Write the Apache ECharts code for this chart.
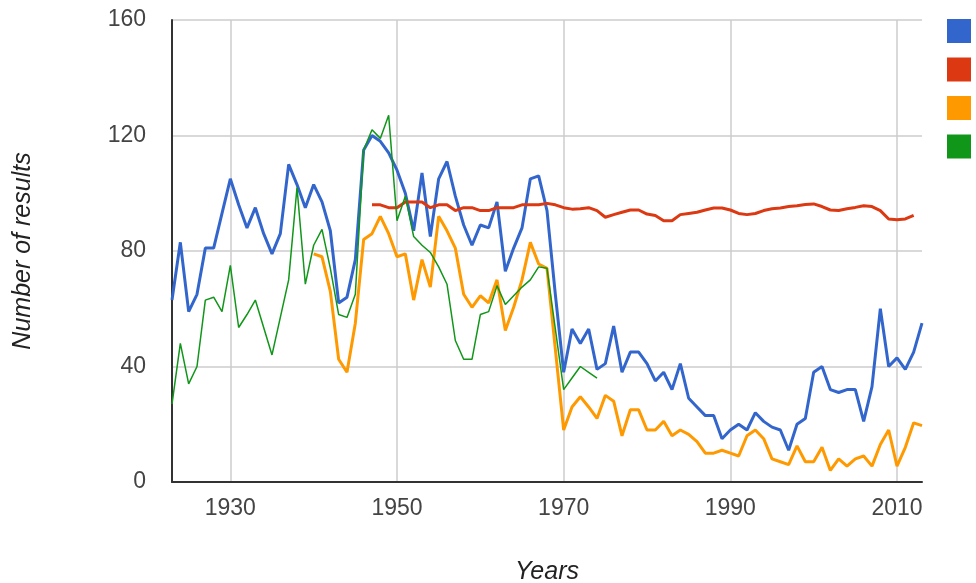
<!DOCTYPE html>
<html>
<head>
<meta charset="utf-8">
<script src="https://cdn.jsdelivr.net/npm/echarts@6/dist/echarts.min.js"></script>
<style>
  html, body { margin: 0; padding: 0; background: #fff; }
  #main { width: 976px; height: 583px; }
</style>
</head>
<body>
<div id="main"></div>
<script>
var myChart = echarts.init(document.getElementById('main'));

// years 1923 .. 2013
var years = [];
for (var y = 1923; y <= 2013; y++) years.push(String(y));

var blueValues = [
	63, 83, 59, 65, 81, 81, 93, 105, 96, 88,
	95, 86, 79, 86, 110, 103, 95, 103, 97, 87,
	62, 64, 77, 115, 120, 118, 114, 108, 100, 87,
	107, 85, 105, 111, 99, 89, 82, 89, 88, 97,
	73, 81, 88, 105, 106, 94, 65, 38, 53, 48,
	53, 39, 41, 54, 38, 45, 45, 41, 35, 38,
	32, 41, 29, 26, 23, 23, 15, 18, 20, 18,
	24, 21, 19, 18, 11, 20, 22, 38, 40, 32,
	31, 32, 32, 21, 33, 60, 40, 43, 39, 45,
	55
];

// starts 1947, ends 2012
var redValues = [
	null, null, null, null, null, null, null, null, null, null,
	null, null, null, null, null, null, null, null, null, null,
	null, null, null, null, 96, 96, 95, 95, 97, 97,
	97, 95, 96, 96, 94, 95, 95, 94, 94, 95,
	95, 95, 96, 96, 96, 96.5, 96, 95, 94.5, 94.6,
	95, 94, 91.7, 92.6, 93.4, 94.2, 94.2, 92.8, 92.3, 90.5,
	90.5, 92.6, 93, 93.4, 94.2, 94.9, 94.9, 94.2, 93, 92.6,
	93, 94, 94.6, 94.9, 95.4, 95.7, 96.1, 96.3, 95.4, 94.2,
	94, 94.6, 95.1, 95.7, 95.4, 94, 91.1, 90.8, 91.1, 92.3,
	null
];

// starts 1940
var orangeValues = [
	null, null, null, null, null, null, null, null, null, null,
	null, null, null, null, null, null, null, 79, 78, 66,
	42.5, 38, 55, 84, 86, 92, 86, 78, 79, 63,
	77, 67.5, 92, 87, 81, 65, 60.5, 64.5, 62, 70,
	52.5, 60.5, 70, 83, 75.5, 74, 46, 18, 26, 29.5,
	26, 22, 30, 28, 16, 25, 25, 18, 18, 21,
	16, 18, 16.5, 14, 10, 10, 11, 10, 9, 16,
	18, 15, 8, 7, 6, 12.5, 7, 7, 12, 4,
	8, 5.5, 8, 9, 5.5, 13, 18, 5.5, 12, 20.5,
	19.5
];

// ends 1974
var greenValues = [
	27, 48, 34, 40, 63, 64, 59, 75, 53.5, 58,
	63, 53.5, 44, 57, 70, 102, 68.5, 82, 87.5, 74,
	58, 57, 65, 115, 122, 119, 127, 90.5, 99, 85,
	82, 79.5, 74.5, 68.5, 49, 42.5, 42.5, 58, 59, 68,
	61.5, 64.5, 67.5, 70, 74.5, 74, 53, 32, 36, 40,
	38, 36
];

var seriesNames = ['Series 1', 'Series 2', 'Series 3', 'Series 4'];
var colors = ['#3366cc', '#dc3912', '#ff9900', '#109618'];
var yTicks = { min: 0, max: 160, interval: 40 };

function showDecade(index, value) {
	return Number(value) % 20 === 10;
}

option = {
	animation: false,
	color: colors,
	textStyle: { fontFamily: 'Liberation Sans, Arial, sans-serif' },
	grid: {
		left: 172,
		right: 54,
		top: 20,
		bottom: 101,
		outerBoundsMode: 'none'
	},
	legend: {
		orient: 'vertical',
		left: 947,
		top: 19,
		padding: 0,
		icon: 'rect',
		itemWidth: 24,
		itemHeight: 24,
		itemGap: 14.5,
		formatter: function () { return ''; },
		textStyle: { fontSize: 10 },
		data: seriesNames
	},
	xAxis: {
		type: 'category',
		boundaryGap: false,
		data: years,
		name: 'Years',
		nameLocation: 'middle',
		nameGap: 78,
		nameTextStyle: { fontSize: 25, fontStyle: 'italic', color: '#222' },
		axisLine: { lineStyle: { color: '#333', width: 2 } },
		axisTick: { show: false },
		axisLabel: {
			interval: showDecade,
			margin: 15,
			fontSize: 23,
			color: '#444'
		},
		splitLine: {
			show: true,
			interval: showDecade,
			lineStyle: { color: '#ccc', width: 1.5 }
		}
	},
	yAxis: {
		type: 'value',
		min: yTicks.min,
		max: yTicks.max,
		interval: yTicks.interval,
		name: 'Number of results',
		nameLocation: 'middle',
		nameGap: 136,
		nameTextStyle: { fontSize: 25, fontStyle: 'italic', color: '#222' },
		axisLine: { show: true, lineStyle: { color: '#333', width: 2 } },
		axisTick: { show: false },
		axisLabel: { margin: 26, fontSize: 23, color: '#444' },
		splitLine: { lineStyle: { color: '#ccc', width: 1.5 } }
	},
	series: [
		{
			name: seriesNames[0],
			type: 'line',
			data: blueValues,
			showSymbol: false,
			lineStyle: { width: 3 }
		},
		{
			name: seriesNames[1],
			type: 'line',
			data: redValues,
			showSymbol: false,
			lineStyle: { width: 3 }
		},
		{
			name: seriesNames[2],
			type: 'line',
			data: orangeValues,
			showSymbol: false,
			lineStyle: { width: 3 }
		},
		{
			name: seriesNames[3],
			type: 'line',
			data: greenValues,
			showSymbol: false,
			lineStyle: { width: 1.5 }
		}
	]
};

myChart.setOption(option);
</script>
</body>
</html>
